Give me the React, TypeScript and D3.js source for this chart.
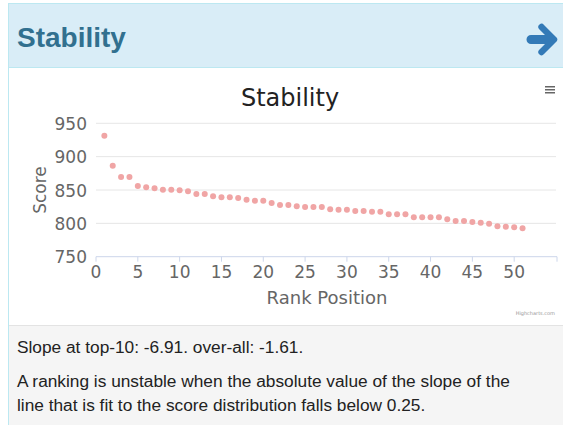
import * as d3 from 'd3';

// rank positions 1..51 and their scores
const ranks = [
  1, 2, 3, 4, 5, 6, 7, 8, 9, 10, 11, 12, 13, 14, 15, 16, 17, 18, 19, 20, 21, 22, 23, 24, 25, 26,
  27, 28, 29, 30, 31, 32, 33, 34, 35, 36, 37, 38, 39, 40, 41, 42, 43, 44, 45, 46, 47, 48, 49, 50, 51,
];
const scores = [
  931.5, 886.5, 869.5, 869.5, 856, 854, 852.5, 850.5, 850.5, 849.5, 848, 844, 844, 840.5, 839, 839,
  838, 835.5, 834, 834, 830.5, 827.5, 827.5, 825.5, 824.5, 824.5, 824.5, 821, 820.5, 820.5, 818.5,
  818.5, 817.5, 817.5, 813.5, 813.5, 813.5, 809, 809, 809, 809, 806, 803.5, 803.5, 802, 801, 799.5,
  795.5, 795, 794, 792.5,
];
const xTicks = [0, 5, 10, 15, 20, 25, 30, 35, 40, 45, 50];
const yTicks = [750, 800, 850, 900, 950];
const footerLines = [
  'Slope at top-10: -6.91. over-all: -1.61.',
  'A ranking is unstable when the absolute value of the slope of the',
  'line that is fit to the score distribution falls below 0.25.',
];

export default function App() {
  const width = 563;
  const height = 425;
  const plot = { l: 96, r: 556, t: 123.3, b: 256.7 };

  const x = d3.scaleLinear().domain([0, 55]).range([plot.l, plot.r]);
  const y = d3.scaleLinear().domain([750, 950]).range([plot.b, plot.t]);

  const axisFont = 'Lucida Grande, DejaVu Sans, sans-serif';

  return (
    <svg width={width} height={height} style={{ position: 'absolute', left: 0, top: 0 }}>
      {/* panel */}
      <rect x={8.5} y={3.5} width={width} height={height} fill="#fff" stroke="#bce8f1" />
      <rect x={9} y={4} width={width} height={63} fill="#d9edf7" />
      <line x1={9} x2={width} y1={67.5} y2={67.5} stroke="#bce8f1" />
      <text x={17} y={47} fontFamily="Liberation Sans, Arial, sans-serif" fontWeight="bold" fontSize={28} fill="#31708f">
        Stability
      </text>
      <path
        d="M 531 35 L 545 35 L 539 29 A 3 3 0 0 1 544 25 L 557 38 A 3 3 0 0 1 557 41 L 544 54 A 3 3 0 0 1 539 50 L 545 44 L 531 44 A 4.5 4.5 0 0 1 531 35 Z"
        fill="#337ab7"
      />

      {/* footer */}
      <rect x={9} y={325} width={width} height={height - 325} fill="#f5f5f5" />
      <line x1={9} x2={width} y1={325.5} y2={325.5} stroke="#e3e3e3" />
      {footerLines.map((t, i) => (
        <text key={i} x={17} y={i === 0 ? 353 : 387 + (i - 1) * 23.5} fontFamily="Liberation Sans, Arial, sans-serif" fontSize={17.3} fill="#222">
          {t}
        </text>
      ))}

      {/* chart title */}
      <text x={290} y={106} textAnchor="middle" fontFamily={axisFont} fontSize={24} fill="#222">
        Stability
      </text>
      <g fill="#666">
        {[0, 3, 6].map(d => (
          <rect key={d} x={545} y={86 + d} width={10} height={1.5} />
        ))}
      </g>

      {/* grid */}
      {yTicks.map(t => (
        <g key={t}>
          {t !== 750 && <line x1={plot.l} x2={plot.r} y1={y(t)} y2={y(t)} stroke="#e6e6e6" />}
          <text x={87} y={y(t) + 6.5} textAnchor="end" fontFamily={axisFont} fontSize={17} fill="#666">
            {t}
          </text>
        </g>
      ))}
      <line x1={plot.l} x2={plot.r + 1} y1={plot.b} y2={plot.b} stroke="#ccd6eb" />
      {xTicks.map(t => (
        <g key={t}>
          <line x1={x(t)} x2={x(t)} y1={plot.b} y2={plot.b + 5} stroke="#ccd6eb" />
          <text x={x(t)} y={278} textAnchor="middle" fontFamily={axisFont} fontSize={17} fill="#666">
            {t}
          </text>
        </g>
      ))}
      <line x1={plot.r + 1} x2={plot.r + 1} y1={plot.b} y2={plot.b + 5} stroke="#ccd6eb" />

      {/* axis titles */}
      <text x={327} y={304} textAnchor="middle" fontFamily={axisFont} fontSize={18} fill="#666">
        Rank Position
      </text>
      <text transform={`translate(46, ${(plot.t + plot.b) / 2}) rotate(-90)`} textAnchor="middle" fontFamily={axisFont} fontSize={17} fill="#666">
        Score
      </text>

      {/* points */}
      {ranks.map((r, i) => (
        <circle key={r} cx={x(r)} cy={y(scores[i])} r={3} fill="#f0a5a5" />
      ))}

      <text x={555} y={315} textAnchor="end" fontFamily={axisFont} fontSize={5} fill="#999">
        Highcharts.com
      </text>
    </svg>
  );
}
